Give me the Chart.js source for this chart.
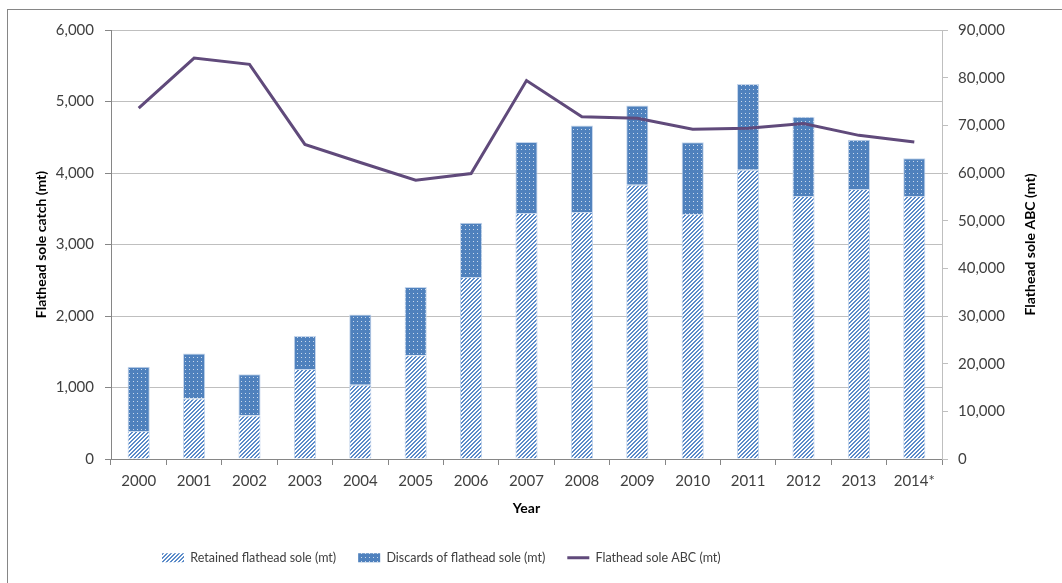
<!DOCTYPE html>
<html>
<head>
<meta charset="utf-8">
<script src="https://cdn.jsdelivr.net/npm/chart.js@4.4.1/dist/chart.umd.min.js"></script>
<style>
  html, body { margin: 0; padding: 0; background: #fff; }
  canvas { display: block; }
</style>
</head>
<body>
<canvas id="chart" width="1062" height="583"></canvas>
<script>
// values
const years = ['2000', '2001', '2002', '2003', '2004', '2005', '2006', '2007',
               '2008', '2009', '2010', '2011', '2012', '2013', '2014*'];
const retained = [390, 845, 610, 1260, 1040, 1450, 2545, 3440, 3455, 3835, 3425, 4045, 3680, 3775, 3680];
const discards = [900, 630, 575, 460, 980, 955, 760, 995, 1210, 1110, 1005, 1200, 1105, 690, 525];
const abc = [73600, 84100, 82800, 66000, 62200, 58500, 59900, 79400, 71800, 71500, 69200, 69400, 70400, 67900, 66500];

const BLUE = '#4F81BD';
const PURPLE = '#604A7B';
const TXT = '#404040';

function makePattern(draw) {
    const c = document.createElement('canvas');
    c.width = 4;
    c.height = 4;
    const g = c.getContext('2d');
    draw(g);
    return g.createPattern(c, 'repeat');
}

// upward diagonal stripes for retained catch
const hatch = makePattern(function (g) {
    g.fillStyle = '#fff';
    g.fillRect(0, 0, 4, 4);
    g.fillStyle = '#5B8BC9';
    for (let y = 0; y < 4; y++) {
        g.fillRect(3 - y, y, 1, 1);
        g.fillRect((4 - y) % 4, y, 1, 1);
    }
});

// blue with small white dots for discards
const dots = makePattern(function (g) {
    g.fillStyle = BLUE;
    g.fillRect(0, 0, 4, 4);
    g.fillStyle = 'rgba(255,255,255,0.7)';
    g.fillRect(1, 1, 1, 1);
});

const fmt = v => Number(v).toLocaleString('en-US');

// frame round the whole chart, plus right axis title read bottom to top
const frame = {
    id: 'frame',
    beforeDraw(chart) {
        const ctx = chart.ctx;
        ctx.save();
        ctx.fillStyle = '#fff';
        ctx.fillRect(0, 0, chart.width, chart.height);
        ctx.strokeStyle = '#868686';
        ctx.lineWidth = 1;
        ctx.strokeRect(7.5, 9.5, chart.width + 20, chart.height + 20);
        ctx.restore();
    },
    afterLayout(chart) {
        // move the legend row to where the original sits
        chart.legend.left = 140;
    },
    afterDraw(chart) {
        const ctx = chart.ctx;
        const s = chart.scales.y1;
        const area = chart.chartArea;
        ctx.save();
        ctx.translate(s.right - 32, (area.top + area.bottom) / 2);
        ctx.rotate(-Math.PI / 2);
        ctx.font = 'bold 14px Lato';
        ctx.fillStyle = '#000';
        ctx.textAlign = 'center';
        ctx.textBaseline = 'middle';
        ctx.fillText('Flathead sole ABC (mt)', 0, 0);
        ctx.restore();
    }
};

function draw() {
    const ctx = document.getElementById('chart').getContext('2d');
    new Chart(ctx, {
        type: 'bar',
        data: {
            labels: years,
            datasets: [
                {
                    type: 'line',
                    label: 'Flathead sole ABC (mt)',
                    data: abc,
                    yAxisID: 'y1',
                    borderColor: PURPLE,
                    backgroundColor: PURPLE,
                    borderWidth: 3,
                    pointRadius: 0,
                    tension: 0,
                    order: 0
                },
                {
                    label: 'Retained flathead sole (mt)',
                    data: retained,
                    yAxisID: 'y',
                    backgroundColor: hatch,
                    borderColor: '#C5D6EC',
                    borderWidth: 1,
                    categoryPercentage: 1,
                    barPercentage: 0.4,
                    order: 1
                },
                {
                    label: 'Discards of flathead sole (mt)',
                    data: discards,
                    yAxisID: 'y',
                    backgroundColor: dots,
                    borderColor: '#C5D6EC',
                    borderWidth: 1,
                    categoryPercentage: 1,
                    barPercentage: 0.4,
                    order: 1
                }
            ]
        },
        options: {
            responsive: false,
            animation: false,
            layout: { padding: { top: 30, left: 0, right: 0, bottom: 9 } },
            plugins: {
                tooltip: { enabled: false },
                legend: {
                    position: 'bottom',
                    align: 'start',
                    labels: {
                        usePointStyle: true,
                        pointStyleWidth: 22,
                        boxHeight: 9,
                        padding: 22,
                        color: TXT,
                        font: { family: 'Lato', size: 12.5 },
                        generateLabels(chart) {
                            const items = Chart.defaults.plugins.legend.labels.generateLabels(chart);
                            items.forEach(it => {
                                const ds = chart.data.datasets[it.datasetIndex];
                                if (ds.type === 'line') {
                                    it.pointStyle = 'line';
                                    it.lineWidth = 3;
                                } else {
                                    it.pointStyle = 'rect';
                                    it.lineWidth = 0;
                                }
                            });
                            // bars first, then the line
                            return [items[1], items[2], items[0]];
                        }
                    }
                }
            },
            scales: {
                x: {
                    stacked: true,
                    grid: {
                        drawOnChartArea: false,
                        tickLength: 6,
                        color: '#868686',
                        offset: true
                    },
                    border: { color: '#868686' },
                    ticks: {
                        color: TXT,
                        font: { family: 'Lato', size: 15 },
                        padding: 7,
                        maxRotation: 0
                    },
                    title: {
                        display: true,
                        text: 'Year',
                        color: '#000',
                        font: { family: 'Lato', size: 14, weight: 'bold' },
                        padding: { top: 0, bottom: 13 }
                    },
                    afterFit(s) { s.height = 70.5; }
                },
                y: {
                    stacked: true,
                    position: 'left',
                    min: 0,
                    max: 6000,
                    grid: {
                        color: '#BFBFBF',
                        tickColor: '#868686',
                        tickLength: 6
                    },
                    border: { color: '#868686' },
                    ticks: {
                        stepSize: 1000,
                        color: TXT,
                        padding: 11,
                        font: { family: 'Lato', size: 15 },
                        callback: v => fmt(v)
                    },
                    title: {
                        display: true,
                        text: 'Flathead sole catch (mt)',
                        color: '#000',
                        font: { family: 'Lato', size: 14, weight: 'bold' },
                        padding: { top: 33, bottom: 0 }
                    },
                    afterFit(s) { s.width = 111; }
                },
                y1: {
                    position: 'right',
                    min: 0,
                    max: 90000,
                    grid: {
                        drawOnChartArea: false,
                        color: '#BFBFBF',
                        tickColor: '#BFBFBF',
                        tickLength: 6
                    },
                    border: { color: '#BFBFBF' },
                    ticks: {
                        stepSize: 10000,
                        color: TXT,
                        padding: 10,
                        font: { family: 'Lato', size: 15 },
                        callback: v => fmt(v)
                    },
                    afterFit(s) { s.width = 120; }
                }
            }
        },
        plugins: [frame]
    });
}

document.fonts.load('15px Lato').then(draw, draw);
</script>
</body>
</html>
